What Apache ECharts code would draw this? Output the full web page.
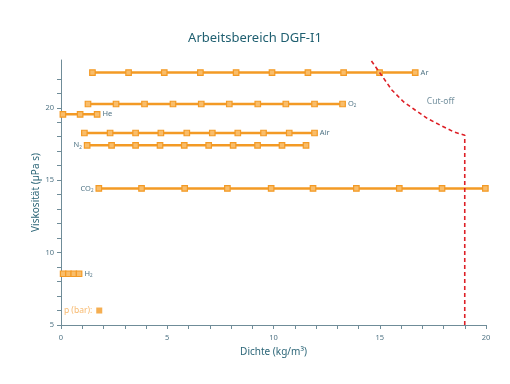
<!DOCTYPE html>
<html><head><meta charset="utf-8">
<script src="https://cdn.jsdelivr.net/npm/echarts@6/dist/echarts.min.js"></script>
<style>html,body{margin:0;padding:0;background:#fff}#c{width:510px;height:384px}</style>
</head><body><div id="c"></div>
<script>
// Gas lines: density (kg/m3) points at increasing pressure, and constant viscosity (µPa s)
const gasNames = ['Ar', 'O2', 'He', 'Air', 'N2', 'CO2', 'H2'];
const gasLabels = ['Ar', '{b|O}{s|2}', 'He', 'Air', '{b|N}{s|2}', '{b|CO}{s|2}', '{b|H}{s|2}'];
const gasLabelSide = ['right', 'right', 'right', 'right', 'left', 'left', 'right'];
const gasViscosity = [22.43, 20.26, 19.55, 18.26, 17.41, 14.43, 8.54];
const densAr  = [1.48, 3.18, 4.86, 6.56, 8.24, 9.93, 11.62, 13.30, 14.99, 16.67];
const densO2  = [1.27, 2.59, 3.93, 5.27, 6.60, 7.92, 9.26, 10.58, 11.93, 13.25];
const densHe  = [0.09, 0.90, 1.70];
const densAir = [1.10, 2.31, 3.51, 4.70, 5.92, 7.12, 8.32, 9.53, 10.74, 11.93];
const densN2  = [1.23, 2.38, 3.51, 4.66, 5.80, 6.95, 8.10, 9.25, 10.40, 11.53];
const densCO2 = [1.78, 3.79, 5.82, 7.83, 9.89, 11.86, 13.90, 15.92, 17.93, 19.97];
const densH2  = [0.10, 0.35, 0.60, 0.85];
const gasDensities = [densAr, densO2, densHe, densAir, densN2, densCO2, densH2];
// Cut-off boundary
const cutX = [14.61, 15.03, 15.58, 16.13, 16.68, 17.24, 17.86, 18.49, 19.0, 19.0];
const cutY = [23.23, 22.36, 21.21, 20.40, 19.83, 19.26, 18.79, 18.33, 18.10, 5.0];
const cutLabel = 'Cut-off';
const cutLabelPos = [17.86, 20.45];
// Axis ticks
const xLabelValues = [0, 5, 10, 15, 20];
const xTickValues = [0,1,2,3,4,5,6,7,8,9,10,11,12,13,14,15,16,17,18,19,20];
const yLabelValues = [5, 10, 15, 20];
const yTickValues = [5,6,7,8,9,10,11,12,13,14,15,16,17,18,19,20,21,22];
// Legend marker
const legendText = 'p (bar):';
const legendPoint = [1.8, 6.0];

const ORANGE = '#f39a25';
const TEXT = '#4f7384';
const FONT = 'Noto Sans';

const series = gasNames.map((name, i) => {
  const d = gasDensities[i];
  const v = gasViscosity[i];
  const side = gasLabelSide[i];
  const data = d.map((x, j) => {
    const item = { value: [x, v] };
    const isEnd = side === 'right' ? j === d.length - 1 : j === 0;
    if (isEnd) {
      item.label = {
        show: true, position: side, distance: 2,
        formatter: gasLabels[i],
        color: TEXT, fontFamily: FONT, fontSize: 7.5,
        rich: {
          b: { color: TEXT, fontFamily: FONT, fontSize: 7.5 },
          s: { color: TEXT, fontFamily: FONT, fontSize: 4.5, verticalAlign: 'bottom', padding: [4, 0, 0, 0] }
        }
      };
    }
    return item;
  });
  return {
    name, type: 'line', data, symbol: 'rect', symbolSize: 5.5,
    lineStyle: { color: ORANGE, width: 2.5 },
    itemStyle: { color: '#f9bd6a', borderColor: ORANGE, borderWidth: 1.2 },
    label: { show: false }, z: 3, animation: false
  };
});

series.push({
  name: 'cut', type: 'line', data: cutX.map((x, i) => [x, cutY[i]]),
  symbol: 'none', smooth: false,
  lineStyle: { color: '#dd1f26', width: 1.6, type: [4, 3] }, z: 4, animation: false
});
series.push({
  name: 'cutLabel', type: 'scatter', data: [cutLabelPos], symbolSize: 0,
  label: { show: true, position: 'inside', formatter: cutLabel,
           color: TEXT, fontFamily: FONT, fontSize: 8.5 },
  animation: false
});
series.push({
  name: 'legend', type: 'scatter', data: [legendPoint], symbol: 'rect', symbolSize: 6,
  itemStyle: { color: ORANGE },
  label: { show: true, position: 'left', distance: 4, formatter: legendText,
           color: '#f5a84a', fontFamily: FONT, fontSize: 8.5 },
  animation: false
});

const chart = echarts.init(document.getElementById('c'), null, { renderer: 'canvas' });
chart.setOption({
  backgroundColor: '#fff',
  animation: false,
  title: { text: 'Arbeitsbereich DGF-I1', left: 'center', top: 27,
    textStyle: { color: '#1f5f70', fontFamily: FONT, fontSize: 13, fontWeight: 'normal' } },
  grid: { left: 61, right: 24, top: 60, bottom: 59 },
  xAxis: {
    type: 'value', min: 0, max: 20,
    name: 'Dichte (kg/m³)', nameLocation: 'middle', nameGap: 22, nameMoveOverlap: false,
    nameTextStyle: { color: '#2b6577', fontFamily: FONT, fontSize: 10 },
    axisLine: { show: true, lineStyle: { color: '#6f8c98', width: 1 } },
    axisTick: { show: true, length: 4, customValues: xTickValues, lineStyle: { color: '#6f8c98' } },
    axisLabel: { customValues: xLabelValues, color: TEXT, fontFamily: FONT, fontSize: 7.5, margin: 9 },
    splitLine: { show: false }
  },
  yAxis: {
    type: 'value', min: 5, max: 23.3,
    name: 'Viskosität (µPa s)', nameLocation: 'middle', nameGap: 20, nameMoveOverlap: false,
    nameTextStyle: { color: '#2b6577', fontFamily: FONT, fontSize: 10 },
    axisLine: { show: true, lineStyle: { color: '#6f8c98', width: 1 } },
    axisTick: { show: true, length: 4, customValues: yTickValues, lineStyle: { color: '#6f8c98' } },
    axisLabel: { customValues: yLabelValues, color: TEXT, fontFamily: FONT, fontSize: 7.5, margin: 7 },
    splitLine: { show: false }
  },
  series
});
</script></body></html>
